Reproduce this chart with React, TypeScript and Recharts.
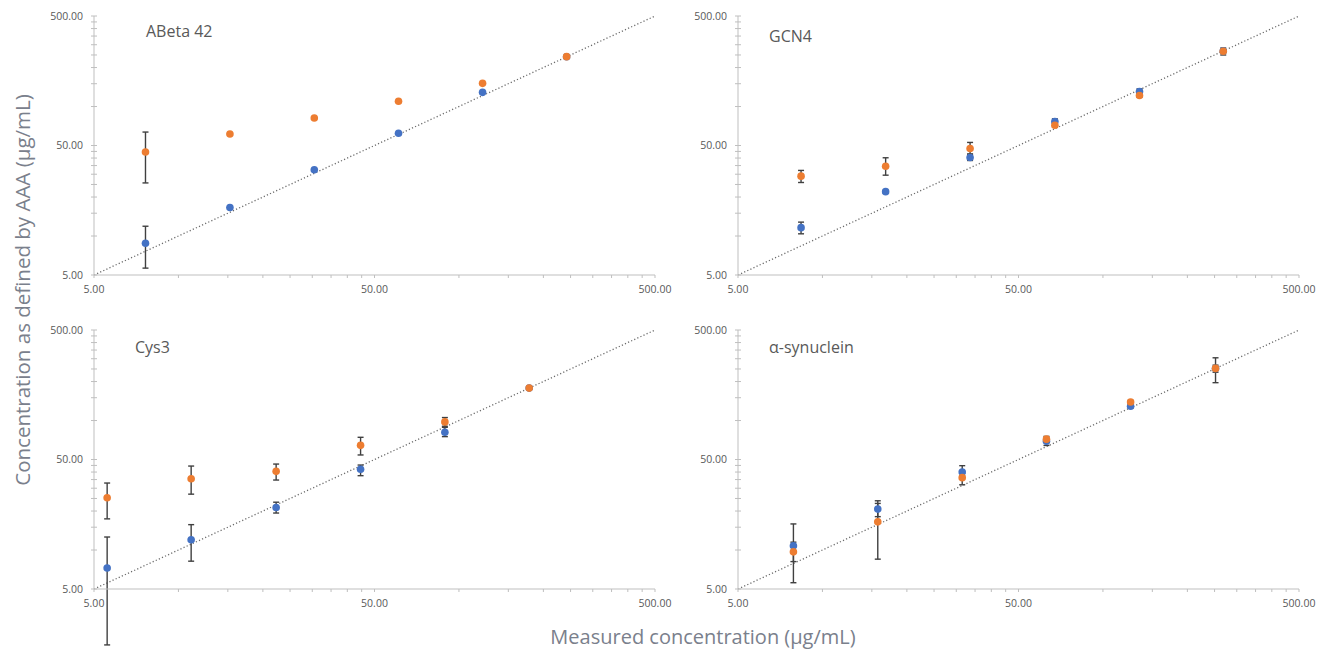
import { ScatterChart, Scatter, XAxis, YAxis, ErrorBar, ReferenceLine } from "recharts";

// axis ticks (log scale, Excel style)
const MAJOR_TICKS = [5, 50, 500];
const MINOR_TICKS = [5, 10, 15, 20, 25, 30, 35, 40, 45, 50, 100, 150, 200, 250, 300, 350, 400, 450, 500];
const IDENTITY = [5, 500];

// ABeta 42
const abetaX = [7.63, 15.26, 30.5, 60.9, 121.4, 242];
const abetaBlue = [8.8, 16.6, 32.5, 62.1, 128.7, 242];
const abetaBlueLow = [5.65, 16.6, 32.5, 62.1, 128.7, 242];
const abetaBlueHigh = [11.9, 16.6, 32.5, 62.1, 128.7, 242];
const abetaOrange = [44.6, 61.4, 81.5, 109.7, 151, 242.6];
const abetaOrangeLow = [25.7, 61.4, 81.5, 109.7, 151, 242.6];
const abetaOrangeHigh = [63.5, 61.4, 81.5, 109.7, 151, 242.6];

// GCN4
const gcnX = [8.39, 16.8, 33.6, 67.4, 135, 268.5];
const gcnBlue = [11.6, 22.0, 40.4, 76.6, 130.5, 268];
const gcnBlueLow = [10.4, 21.5, 38.3, 74.5, 127, 268];
const gcnBlueHigh = [12.8, 22.5, 42.4, 80.3, 136.8, 268];
const gcnOrange = [29.0, 34.6, 47.4, 71.7, 121.5, 267];
const gcnOrangeLow = [25.9, 29.5, 43.1, 69.5, 118, 250];
const gcnOrangeHigh = [32.1, 40.2, 52.8, 74, 125, 283];

// Cys3
const cysX = [5.57, 11.1, 22.3, 44.6, 89.1, 178];
const cysBlue = [7.27, 12.0, 21.3, 42.0, 81.1, 178];
const cysBlueLow = [1.85, 8.2, 19.3, 37.5, 75.1, 178];
const cysBlueHigh = [12.6, 15.7, 23.4, 45.3, 88.6, 178];
const cysOrange = [25.3, 35.5, 40.5, 64.3, 97.6, 178];
const cysOrangeLow = [17.4, 27.0, 34.7, 54.2, 90.3, 175];
const cysOrangeHigh = [32.9, 44.5, 46.1, 74.2, 105.4, 181];

// alpha-synuclein
const synX = [7.88, 15.75, 31.5, 62.9, 125.5, 252];
const synBlue = [10.8, 20.7, 40.0, 69.3, 128.8, 252];
const synBlueLow = [5.59, 18.1, 37.5, 64.2, 125, 196];
const synBlueHigh = [15.9, 22.9, 44.8, 72, 132, 305];
const synOrange = [9.68, 16.5, 36.2, 71.8, 139, 252.5];
const synOrangeLow = [8.14, 8.5, 31.9, 68, 135, 236];
const synOrangeHigh = [11.5, 24.0, 39, 75.4, 143, 267.7];

const BLUE = "#4472C4";
const ORANGE = "#ED7D31";
const AXIS = "#bfbfbf";
const LABEL = "#595959";
const FONT = "'Open Sans', sans-serif";

const PLOT_W = 561;
const PLOT_H = 259;
const Y_AXIS_W = 94;

function rows(xs: number[], ys: number[], lo: number[], hi: number[]) {
  return xs.map((x, i) => ({ x, y: ys[i], err: [ys[i] - lo[i], hi[i] - ys[i]] }));
}

const dot = (color: string) => (props: any) =>
  <circle cx={props.cx} cy={props.cy} r={3.8} fill={color} />;

// minor axes draw tick marks only
const noLabel = () => <g />;
const fmt = (v: number) => (MAJOR_TICKS.includes(v) ? v.toFixed(2) : "");

interface PanelProps {
  left: number;
  top: number;
  title: string;
  titleDx: number;
  titleDy: number;
  xs: number[];
  blue: number[];
  blueLow: number[];
  blueHigh: number[];
  orange: number[];
  orangeLow: number[];
  orangeHigh: number[];
}

function Panel(p: PanelProps) {
  const blueRows = rows(p.xs, p.blue, p.blueLow, p.blueHigh);
  const orangeRows = rows(p.xs, p.orange, p.orangeLow, p.orangeHigh);
  const tickStyle = { fill: LABEL, fontSize: 10.5, fontFamily: FONT };
  return (
    <div style={{ position: "absolute", left: p.left - Y_AXIS_W, top: p.top - 16 }}>
      <ScatterChart
        width={Y_AXIS_W + PLOT_W + 16}
        height={16 + PLOT_H + 25 + 50}
        margin={{ top: 16, right: 16, bottom: 50, left: 0 }}
      >
        <XAxis
          type="number"
          dataKey="x"
          scale="log"
          domain={[IDENTITY[0], IDENTITY[1]]}
          allowDataOverflow
          ticks={MINOR_TICKS}
          interval={0}
          height={25}
          tickSize={3}
          tickMargin={8}
          tick={tickStyle}
          tickFormatter={fmt}
          axisLine={{ stroke: AXIS }}
          tickLine={{ stroke: AXIS }}
        />
        <YAxis
          type="number"
          dataKey="y"
          scale="log"
          domain={[IDENTITY[0], IDENTITY[1]]}
          allowDataOverflow
          ticks={MINOR_TICKS}
          interval={0}
          width={Y_AXIS_W}
          tickSize={3}
          tickMargin={8}
          tick={tickStyle}
          tickFormatter={fmt}
          axisLine={{ stroke: AXIS }}
          tickLine={{ stroke: AXIS }}
        />
        {/* minor ticks pointing into the plot, mirrored */}
        <XAxis
          xAxisId="minor"
          type="number"
          scale="log"
          domain={[IDENTITY[0], IDENTITY[1]]}
          allowDataOverflow
          ticks={MINOR_TICKS}
          interval={0}
          mirror
          height={1}
          tick={noLabel}
          tickSize={3}
          axisLine={false}
          tickLine={{ stroke: AXIS }}
        />
        <YAxis
          yAxisId="minor"
          type="number"
          scale="log"
          domain={[IDENTITY[0], IDENTITY[1]]}
          allowDataOverflow
          ticks={MINOR_TICKS}
          interval={0}
          mirror
          width={1}
          tick={noLabel}
          tickSize={3}
          axisLine={false}
          tickLine={{ stroke: AXIS }}
        />
        <ReferenceLine
          segment={[
            { x: IDENTITY[0], y: IDENTITY[0] },
            { x: IDENTITY[1], y: IDENTITY[1] },
          ]}
          stroke="#6b6b6b"
          strokeWidth={1.3}
          strokeDasharray="1.2 2.2"
        />
        <Scatter data={blueRows} shape={dot(BLUE)} isAnimationActive={false}>
          <ErrorBar dataKey="err" direction="y" width={3} stroke="#404040" strokeWidth={1.4} />
        </Scatter>
        <Scatter data={orangeRows} shape={dot(ORANGE)} isAnimationActive={false}>
          <ErrorBar dataKey="err" direction="y" width={3} stroke="#404040" strokeWidth={1.4} />
        </Scatter>
      </ScatterChart>
      <div
        style={{
          position: "absolute",
          left: Y_AXIS_W + p.titleDx,
          top: 16 + p.titleDy - 11,
          fontFamily: FONT,
          fontSize: 16,
          lineHeight: "22px",
          color: LABEL,
          whiteSpace: "nowrap",
        }}
      >
        {p.title}
      </div>
    </div>
  );
}

export default function App() {
  return (
    <div style={{ position: "absolute", left: 0, top: 0, width: 1320, height: 650, background: "#fff" }}>
      <style>{`.recharts-surface{overflow:visible}.recharts-scatter{clip-path:none}`}</style>
      <Panel
        left={93.5} top={16} title="ABeta 42" titleDx={52.5} titleDy={14.7}
        xs={abetaX} blue={abetaBlue} blueLow={abetaBlueLow} blueHigh={abetaBlueHigh}
        orange={abetaOrange} orangeLow={abetaOrangeLow} orangeHigh={abetaOrangeHigh}
      />
      <Panel
        left={738} top={16} title="GCN4" titleDx={31} titleDy={20}
        xs={gcnX} blue={gcnBlue} blueLow={gcnBlueLow} blueHigh={gcnBlueHigh}
        orange={gcnOrange} orangeLow={gcnOrangeLow} orangeHigh={gcnOrangeHigh}
      />
      <Panel
        left={93.5} top={330} title="Cys3" titleDx={41.5} titleDy={17}
        xs={cysX} blue={cysBlue} blueLow={cysBlueLow} blueHigh={cysBlueHigh}
        orange={cysOrange} orangeLow={cysOrangeLow} orangeHigh={cysOrangeHigh}
      />
      <Panel
        left={738} top={330} title="α-synuclein" titleDx={31} titleDy={17}
        xs={synX} blue={synBlue} blueLow={synBlueLow} blueHigh={synBlueHigh}
        orange={synOrange} orangeLow={synOrangeLow} orangeHigh={synOrangeHigh}
      />
      <div
        style={{
          position: "absolute",
          left: 21.7,
          top: 290,
          transform: "translate(-50%, -50%) rotate(-90deg)",
          fontFamily: FONT,
          fontSize: 20.5,
          color: "#7a808c",
          whiteSpace: "nowrap",
        }}
      >
        Concentration as defined by AAA (µg/mL)
      </div>
      <div
        style={{
          position: "absolute",
          left: 703,
          top: 636,
          transform: "translate(-50%, -50%)",
          fontFamily: FONT,
          fontSize: 20,
          color: "#7a808c",
          whiteSpace: "nowrap",
        }}
      >
        Measured concentration (µg/mL)
      </div>
    </div>
  );
}
